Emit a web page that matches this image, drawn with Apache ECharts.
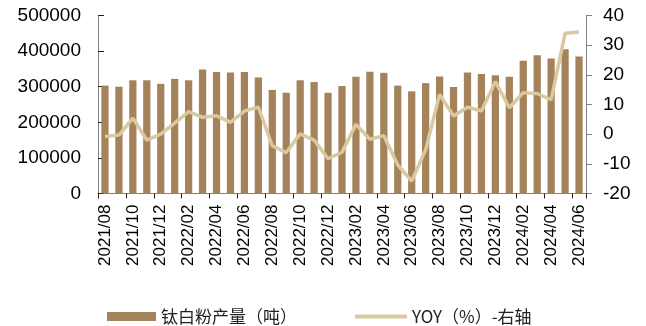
<!DOCTYPE html>
<html>
<head>
<meta charset="utf-8">
<script src="https://cdn.jsdelivr.net/npm/echarts@6/dist/echarts.min.js"></script>
<style>html,body{margin:0;padding:0;background:#fff}#c{width:646px;height:326px}</style>
</head>
<body>
<div id="c"></div>
<script>
const categories = ['2021/08','2021/09','2021/10','2021/11','2021/12','2022/01','2022/02','2022/03','2022/04','2022/05','2022/06','2022/07','2022/08','2022/09','2022/10','2022/11','2022/12','2023/01','2023/02','2023/03','2023/04','2023/05','2023/06','2023/07','2023/08','2023/09','2023/10','2023/11','2023/12','2024/01','2024/02','2024/03','2024/04','2024/05','2024/06'];
const production = [303000,300000,318000,318000,308000,322000,318000,348000,341000,340000,341000,326000,291000,283000,318000,313000,283000,302000,328000,342000,339000,303000,287000,310000,329000,299000,340000,336000,332000,328000,373000,388000,379000,405000,385000];
const yoy = [-0.8,-0.3,5.4,-2.0,0.0,3.7,7.6,5.7,6.2,4.0,7.8,9.1,-3.9,-6.2,0.1,-2.0,-8.3,-6.1,3.3,-1.7,-0.5,-10.4,-15.8,-5.3,13.4,6.1,9.1,7.8,17.7,8.9,14.0,13.7,11.6,34.0,34.4];
const leftTicks = [0,100000,200000,300000,400000,500000];
const rightTicks = [-20,-10,0,10,20,30,40];

const barColor = '#A5835A';
const lineColor = '#D9C8A0';
const font = 'Liberation Sans, Arial, sans-serif';
const chart = echarts.init(document.getElementById('c'), null, {renderer:'canvas'});
chart.setOption({
  animation:false,
  grid:{left:98,right:60,top:15.5,height:178},
  legend:[
    {left:102,top:303,itemWidth:49,itemHeight:9,data:[{name:'钛白粉产量（吨）',icon:'rect'}],
     textStyle:{fontSize:17,color:'#222',fontFamily:'Noto Sans CJK SC, sans-serif'}},
    {left:350,top:303,itemWidth:52,itemHeight:4,data:[{name:'YOY（%）-右轴',icon:'rect',itemStyle:{color:lineColor}}],
     textStyle:{fontSize:17,color:'#222',fontFamily:'Noto Sans CJK SC, sans-serif'}}
  ],
  xAxis:{type:'category',data:categories,boundaryGap:true,
    axisLine:{lineStyle:{color:'#808080',width:1}},
    axisTick:{show:true,interval:1,length:5,lineStyle:{color:'#222'}},
    axisLabel:{interval:1,rotate:90,fontSize:17,color:'#000',fontFamily:font,margin:11}},
  yAxis:[
    {type:'value',min:leftTicks[0],max:leftTicks[leftTicks.length-1],interval:100000,
     splitLine:{show:false},
     axisLine:{show:true,lineStyle:{color:'#808080'}},
     axisTick:{show:true,inside:true,length:6,lineStyle:{color:'#222'}},
     axisLabel:{fontSize:19,color:'#000',fontFamily:font,margin:17,formatter:v=>String(v)}},
    {type:'value',min:rightTicks[0],max:rightTicks[rightTicks.length-1],interval:10,
     splitLine:{show:false},
     axisLine:{show:true,lineStyle:{color:'#808080'}},
     axisTick:{show:true,inside:false,length:6,lineStyle:{color:'#808080'}},
     axisLabel:{fontSize:19,color:'#000',fontFamily:font,margin:17}}
  ],
  series:[
    {name:'钛白粉产量（吨）',type:'bar',data:production,yAxisIndex:0,barWidth:'52%',itemStyle:{color:barColor}},
    {name:'YOY（%）-右轴',type:'line',data:yoy,yAxisIndex:1,symbol:'none',
     lineStyle:{color:lineColor,width:3.5},itemStyle:{color:lineColor}}
  ]
});
</script>
</body>
</html>
